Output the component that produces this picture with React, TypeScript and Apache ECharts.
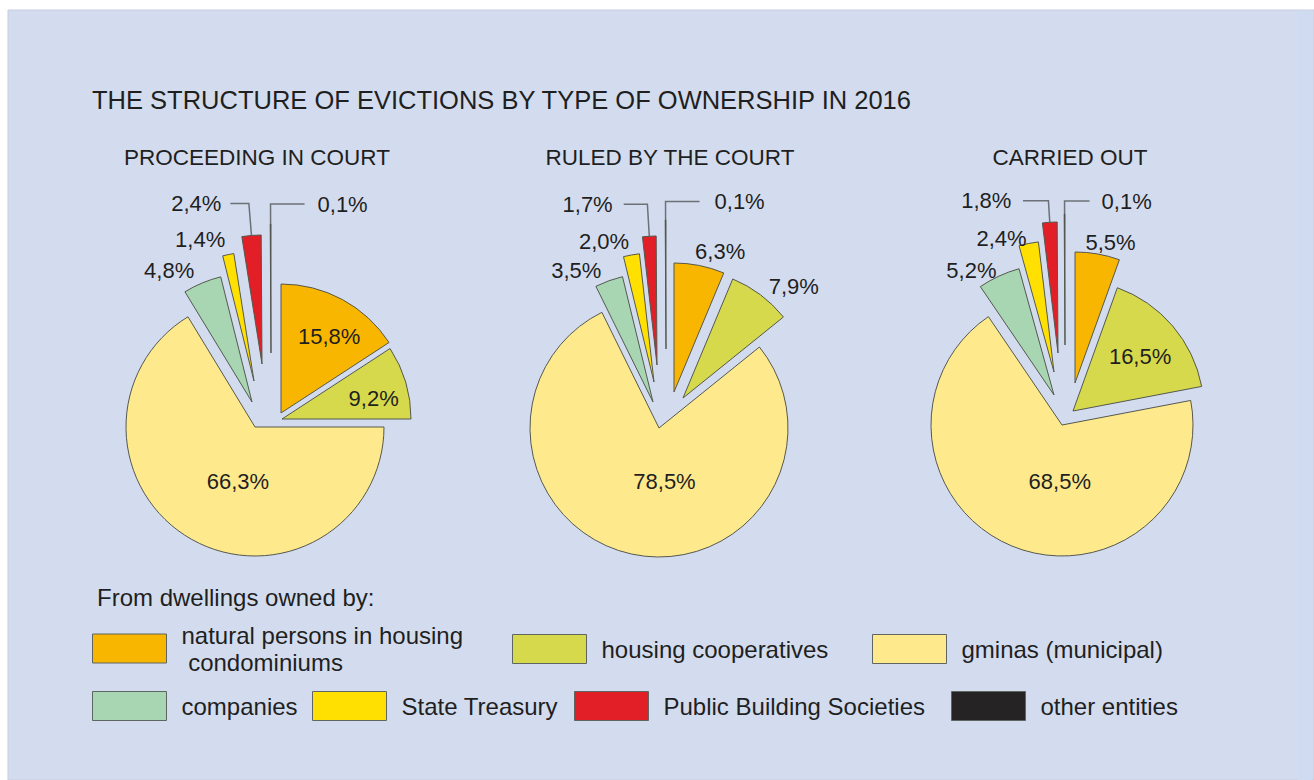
import React, { useEffect, useRef } from 'react';
import * as echarts from 'echarts';

// ---------- data ----------
const categories = [
  'natural persons in housing condominiums',
  'housing cooperatives',
  'gminas (municipal)',
  'companies',
  'State Treasury',
  'Public Building Societies',
  'other entities',
];
const legendLabels = [
  'natural persons in housing\n condominiums',
  'housing cooperatives',
  'gminas (municipal)',
  'companies',
  'State Treasury',
  'Public Building Societies',
  'other entities',
];
const chartTitle = 'THE STRUCTURE OF EVICTIONS BY TYPE OF OWNERSHIP IN 2016';
const legendHeading = 'From dwellings owned by:';
const pieTitles = ['PROCEEDING IN COURT', 'RULED BY THE COURT', 'CARRIED OUT'];
const proceedingValues = [15.8, 9.2, 66.3, 4.8, 1.4, 2.4, 0.1];
const ruledValues = [6.3, 7.9, 78.5, 3.5, 2.0, 1.7, 0.1];
const carriedValues = [5.5, 16.5, 68.5, 5.2, 2.4, 1.8, 0.1];
const pieValues = [proceedingValues, ruledValues, carriedValues];

// ---------- styles / layout ----------
const colors = ['#f9b600', '#d6d94c', '#feea8c', '#a8d5b2', '#ffe000', '#e21e26', '#262324'];
const FONT = '"Liberation Sans", Arial, Helvetica, sans-serif';
const TEXT = '#1f1f1f';
const LEADER = '#6c7177';

type LabelCfg = {
  pos: 'inside' | 'outside';
  len?: number;
  len2?: number;
  dist?: number;
  line?: boolean;
  flip?: boolean;
  nudge?: [number, number];
};
type PieLayout = {
  center: [number, number];
  radius: number;
  titleX: number;
  explode: [number, number][];
  labels: LabelCfg[];
};

const pieLayouts: PieLayout[] = [
  {
    center: [255, 427],
    radius: 129,
    titleX: 257,
    explode: [[26, -14], [27, -8], [0, 0], [-3, -25], [-1, -46], [7, -63], [16, -74]],
    labels: [
      { pos: 'inside', nudge: [16, -17] },
      { pos: 'inside', nudge: [27, -1.5] },
      { pos: 'inside', nudge: [16, -4] },
      { pos: 'outside', len: 13, len2: 0, dist: 3 },
      { pos: 'outside', len: 15, len2: 0, dist: 0 },
      { pos: 'outside', len: 32, len2: 18.5, dist: 9, line: true },
      { pos: 'outside', len: 20, len2: 34, dist: 13, line: true, flip: true },
    ],
  },
  {
    center: [659, 428],
    radius: 129,
    titleX: 670,
    explode: [[15, -36], [24, -30], [0, 0], [-6, -26], [-5, -46], [-2, -63], [7, -79]],
    labels: [
      { pos: 'outside', len: 13.8, len2: 0, dist: 0, nudge: [-7, 0] },
      { pos: 'outside', len: 10.5, len2: 0, dist: 2 },
      { pos: 'inside', nudge: [20, -12] },
      { pos: 'outside', len: 10.4, len2: 0, dist: 4 },
      { pos: 'outside', len: 13.2, len2: 0, dist: 0 },
      { pos: 'outside', len: 32, len2: 23.7, dist: 11, line: true },
      { pos: 'outside', len: 18.6, len2: 34, dist: 15, line: true, flip: true },
    ],
  },
  {
    center: [1062, 425],
    radius: 131,
    titleX: 1070,
    explode: [[13, -42], [11, -14], [0, 0], [-8, -30], [-8, -53], [-4, -72], [3, -80]],
    labels: [
      { pos: 'outside', len: 11.2, len2: 0, dist: 0, nudge: [-14, 0] },
      { pos: 'inside', nudge: [15, -10] },
      { pos: 'inside', nudge: [24, -7] },
      { pos: 'outside', len: 6, len2: 0, dist: 0 },
      { pos: 'outside', len: 5.3, len2: 0, dist: 1 },
      { pos: 'outside', len: 21.6, len2: 25.4, dist: 11.6, line: true },
      { pos: 'outside', len: 13, len2: 25, dist: 12, line: true, flip: true },
    ],
  },
];

// legend boxes: left, top
const legendPos: [number, number][] = [
  [92, 621.5],
  [512, 634],
  [872, 634],
  [92, 691],
  [312, 691],
  [574, 691],
  [951, 691],
];

const fmt = (v: number) => v.toFixed(1).replace('.', ',') + '%';

function buildSeries() {
  const series: any[] = [];
  pieValues.forEach((values, p) => {
    const lay = pieLayouts[p];
    const total = values.reduce((a, b) => a + b, 0);
    let before = 0;
    values.forEach((v, i) => {
      const cfg = lay.labels[i];
      const after = total - before - v;
      const data: any[] = [];
      const placeholder = (val: number) => ({
        name: '',
        value: val,
        itemStyle: { color: 'rgba(0,0,0,0)', borderWidth: 0 },
        label: { show: false },
        labelLine: { show: false },
      });
      if (before > 1e-6) data.push(placeholder(before));
      const visIdx = data.length;
      data.push({
        name: categories[i],
        value: v,
        itemStyle: { color: colors[i] },
        label: {
          show: true,
          position: cfg.pos,
          distanceToLabelLine: cfg.dist ?? 0,
          formatter: () => fmt(v),
          fontSize: 22,
          fontFamily: FONT,
          color: TEXT,
        },
        labelLine: {
          show: !!cfg.line,
          length: cfg.len ?? 10,
          length2: cfg.len2 ?? 0,
          smooth: false,
          lineStyle: { color: LEADER, width: 1.5 },
        },
      });
      if (after > 1e-6) data.push(placeholder(after));
      series.push({
        type: 'pie',
        center: [lay.center[0] + lay.explode[i][0], lay.center[1] + lay.explode[i][1]],
        radius: lay.radius,
        startAngle: 90,
        clockwise: true,
        avoidLabelOverlap: false,
        silent: true,
        animation: false,
        itemStyle: { borderColor: '#55584f', borderWidth: 1 },
        emphasis: { disabled: true },
        data,
        labelLayout: (params: any) => {
          if (params.dataIndex !== visIdx) return {};
          if (cfg.flip && params.labelLinePoints) {
            const pts = params.labelLinePoints;
            const nx2 = 2 * pts[1][0] - pts[2][0];
            return {
              x: nx2 + (cfg.dist ?? 0),
              align: 'left',
              labelLinePoints: [pts[0], pts[1], [nx2, pts[2][1]]],
            };
          }
          if (cfg.nudge) return { dx: cfg.nudge[0], dy: cfg.nudge[1] };
          return {};
        },
      });
      before += v;
    });
  });
  return series;
}

function buildLegends() {
  return categories.map((name, i) => ({
    left: legendPos[i][0],
    top: legendPos[i][1],
    padding: 0,
    orient: 'horizontal',
    icon: 'rect',
    itemWidth: 74,
    itemHeight: 29,
    selectedMode: false,
    formatter: () => legendLabels[i],
    textStyle: {
      fontSize: 24,
      fontFamily: FONT,
      color: TEXT,
      lineHeight: 27,
      padding: [0, 0, 0, 10],
    },
    data: [
      {
        name,
        icon: 'rect',
        itemStyle: { color: colors[i], borderColor: '#5f6560', borderWidth: 1 },
      },
    ],
  }));
}

function buildGraphics() {
  const els: any[] = [
    {
      type: 'rect',
      z: 0,
      silent: true,
      shape: { x: 8, y: 10, width: 1306, height: 770 },
      style: { fill: '#d3dcee', stroke: '#c6cddd', lineWidth: 1 },
    },
    {
      type: 'rect',
      z: 0,
      silent: true,
      shape: { x: 1298, y: 10.5, width: 14, height: 770 },
      style: { fill: '#cfdbf0' },
    },
    {
      type: 'text',
      z: 1,
      x: 92,
      y: 100,
      style: { text: chartTitle, fill: TEXT, font: `25.5px ${FONT}`, align: 'left', verticalAlign: 'middle' },
    },
    {
      type: 'text',
      z: 1,
      x: 97,
      y: 597,
      style: { text: legendHeading, fill: TEXT, font: `24px ${FONT}`, align: 'left', verticalAlign: 'middle' },
    },
  ];
  pieTitles.forEach((t, p) => {
    els.push({
      type: 'text',
      z: 1,
      x: pieLayouts[p].titleX,
      y: 157,
      style: { text: t, fill: TEXT, font: `22.5px ${FONT}`, align: 'center', verticalAlign: 'middle' },
    });
  });
  return els;
}

export default function App() {
  const ref = useRef<HTMLDivElement>(null);
  useEffect(() => {
    document.body.style.margin = '0';
    if (!ref.current) return;
    const chart = echarts.init(ref.current, undefined, { renderer: 'svg' });
    chart.setOption({
      animation: false,
      backgroundColor: '#ffffff',
      graphic: { elements: buildGraphics() },
      legend: buildLegends(),
      series: buildSeries(),
    });
    return () => chart.dispose();
  }, []);
  return <div ref={ref} style={{ width: 1314, height: 780 }} />;
}
